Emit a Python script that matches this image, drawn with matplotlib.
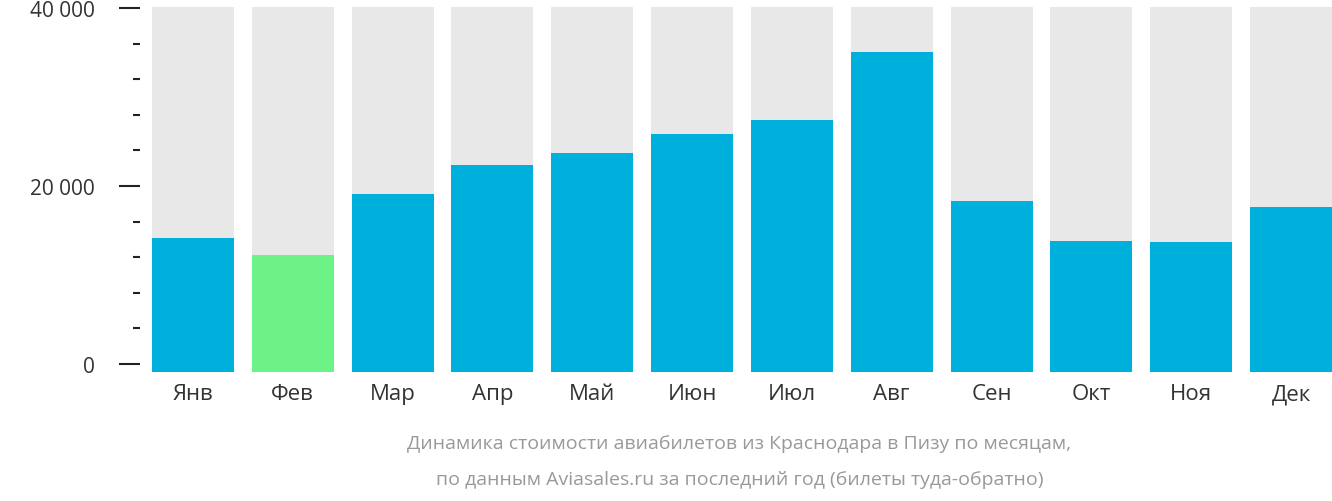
import matplotlib.pyplot as plt
from matplotlib.ticker import FuncFormatter, MultipleLocator

plt.rcParams['font.family'] = 'Open Sans'

months = ['Янв', 'Фев', 'Мар', 'Апр', 'Май', 'Июн', 'Июл', 'Авг', 'Сен', 'Окт', 'Ноя', 'Дек']
prices = [14150, 12250, 19100, 22350, 23700, 25850, 27400, 35050, 18300, 13800, 13700, 17650]
cheapest = 1  # Фев

fig = plt.figure(figsize=(13.32, 5.02), dpi=100)
ax = fig.add_axes([152 / 1332, 1 - 373 / 502, 1 - 152 / 1332, 373 / 502])

x = range(len(months))
ax.bar(x, [41000] * len(months), width=0.82, color='#e8e8e8', bottom=-900)
colors = ['#6cf287' if i == cheapest else '#00b0dc' for i in x]
ax.bar(x, [p + 900 for p in prices], width=0.82, color=colors, bottom=-900)

ax.set_xlim(-0.41, 11.41)
ax.set_ylim(-900, 41000)
for s in ['top', 'right', 'bottom']:
    ax.spines[s].set_visible(False)
ax.spines['left'].set_position(('outward', 9))
ax.spines['left'].set_color('none')

ax.yaxis.set_major_locator(MultipleLocator(20000))
ax.yaxis.set_minor_locator(MultipleLocator(4000))
ax.yaxis.set_major_formatter(FuncFormatter(lambda v, p: '{:,} ₽'.format(int(v)).replace(',', ' ')))
ax.tick_params(axis='y', which='major', length=15, width=1.5, color='#222222', labelsize=15, pad=4, labelcolor='#333333')
ax.tick_params(axis='y', which='minor', length=5, width=1.5, color='#222222')

ax.set_xticks(list(x))
ax.set_xticklabels(months)
ax.tick_params(axis='x', length=0, labelsize=16, pad=8, labelcolor='#333333')

fig.text(0.555, 1 - 444 / 502, 'Динамика стоимости авиабилетов из Краснодара в Пизу по месяцам,',
         ha='center', va='center', fontsize=14, color='#999999')
fig.text(0.555, 1 - 480 / 502, 'по данным Aviasales.ru за последний год (билеты туда-обратно)',
         ha='center', va='center', fontsize=14, color='#999999')

fig.savefig('out.png')
